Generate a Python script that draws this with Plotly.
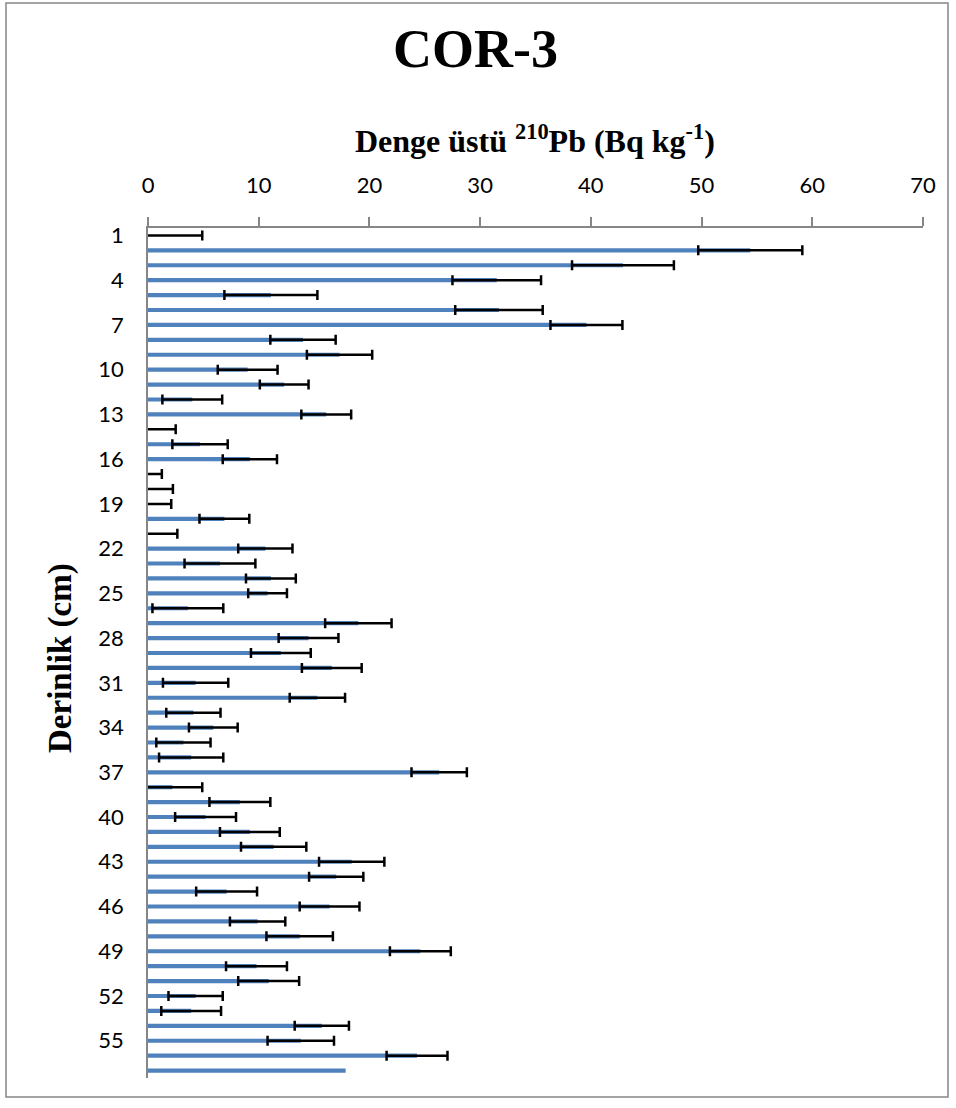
import plotly.graph_objects as go

# Core COR-3: excess 210Pb activity per depth interval
depth_cm = list(range(1, 58))
excess_pb210 = [
    0.0, 54.4, 42.9, 31.5, 11.1, 31.7, 39.6, 14.0, 17.3, 9.0,
    12.3, 4.0, 16.1, 0.0, 4.7, 9.2, 0.0, 0.0, 0.0, 6.9,
    0.0, 10.6, 6.5, 11.1, 10.8, 3.6, 19.0, 14.5, 12.0, 16.6,
    4.3, 15.3, 4.1, 5.9, 3.2, 3.9, 26.3, 2.2, 8.3, 5.2,
    9.2, 11.35, 18.4, 17.0, 7.1, 16.4, 9.9, 13.7, 24.6, 9.8,
    10.9, 4.3, 3.9, 15.7, 13.8, 24.3, 17.85,
]
# 1-sigma uncertainty; the deepest level (57 cm) has none reported
uncertainty = [
    4.9, 4.7, 4.6, 4.0, 4.2, 3.95, 3.25, 2.95, 2.95, 2.7,
    2.2, 2.7, 2.25, 2.5, 2.5, 2.45, 1.25, 2.25, 2.1, 2.25,
    2.65, 2.45, 3.2, 2.25, 1.75, 3.2, 3.0, 2.7, 2.7, 2.7,
    2.95, 2.5, 2.45, 2.2, 2.45, 2.9, 2.5, 2.7, 2.75, 2.75,
    2.7, 2.95, 2.95, 2.45, 2.75, 2.7, 2.5, 3.0, 2.75, 2.75,
    2.75, 2.45, 2.7, 2.45, 3.0, 2.75,
]
x_ticks = [0, 10, 20, 30, 40, 50, 60, 70]
y_ticks = list(range(1, 56, 3))

W, H = 956, 1108
ML, MR, MT, MB = 148, 33, 228, 30
PW, PH = W - ML - MR, H - MT - MB


def px_to_paper(px, py):
    return (px - ML) / PW, (H - MB - py) / PH


fig = go.Figure(
    go.Bar(
        x=excess_pb210,
        y=depth_cm,
        orientation="h",
        marker=dict(color="#4F81BD", line=dict(width=0)),
        error_x=dict(
            type="data",
            array=uncertainty,
            symmetric=True,
            color="#000000",
            thickness=2.5,
            width=5,
        ),
        cliponaxis=True,
        hoverinfo="x+y",
    )
)

serif = "Liberation Serif, Times New Roman, serif"
sans = "Lato, Carlito, Calibri, sans-serif"

tx, ty = px_to_paper(475, 49)
ax_x, ax_y = px_to_paper(535, 139)
ay_x, ay_y = px_to_paper(60, 658)

fig.update_layout(
    width=W,
    height=H,
    margin=dict(l=ML, r=MR, t=MT, b=MB),
    paper_bgcolor="white",
    plot_bgcolor="white",
    showlegend=False,
    bargap=0.72,
    font=dict(family=sans, size=22, color="#000000"),
    xaxis=dict(
        side="top",
        range=[0, 70],
        tickvals=x_ticks,
        ticks="outside",
        ticklen=9,
        tickwidth=1.5,
        tickcolor="#868686",
        showline=True,
        linecolor="#868686",
        linewidth=1.5,
        showgrid=False,
        zeroline=False,
        ticklabelstandoff=15,
        tickfont=dict(family=sans, size=22),
    ),
    yaxis=dict(
        range=[57.5, 0.5],
        tickvals=y_ticks,
        ticks="",
        showline=True,
        linecolor="#868686",
        linewidth=1.5,
        showgrid=False,
        zeroline=False,
        ticklabelstandoff=18,
        tickfont=dict(family=sans, size=22),
    ),
    annotations=[
        dict(
            text="<b>COR-3</b>",
            x=tx, y=ty, xref="paper", yref="paper",
            xanchor="center", yanchor="middle", showarrow=False,
            font=dict(family=serif, size=54, color="#000000"),
        ),
        dict(
            text="<b>Denge üstü <sup>210</sup>Pb (Bq kg<sup>-1</sup>)</b>",
            x=ax_x, y=ax_y, xref="paper", yref="paper",
            xanchor="center", yanchor="middle", showarrow=False,
            font=dict(family=serif, size=32, color="#000000"),
        ),
        dict(
            text="<b>Derinlik (cm)</b>",
            x=ay_x, y=ay_y, xref="paper", yref="paper",
            xanchor="center", yanchor="middle", showarrow=False,
            textangle=-90,
            font=dict(family=serif, size=33, color="#000000"),
        ),
    ],
)

# chart-area frame
fx0, fy1 = px_to_paper(6, 3)
fx1, fy0 = px_to_paper(948, 1097)
fig.add_shape(
    type="rect", xref="paper", yref="paper",
    x0=fx0, x1=fx1, y0=fy0, y1=fy1,
    line=dict(color="#868686", width=1.5),
    fillcolor="rgba(0,0,0,0)", layer="below",
)

fig.write_html("out.html")
